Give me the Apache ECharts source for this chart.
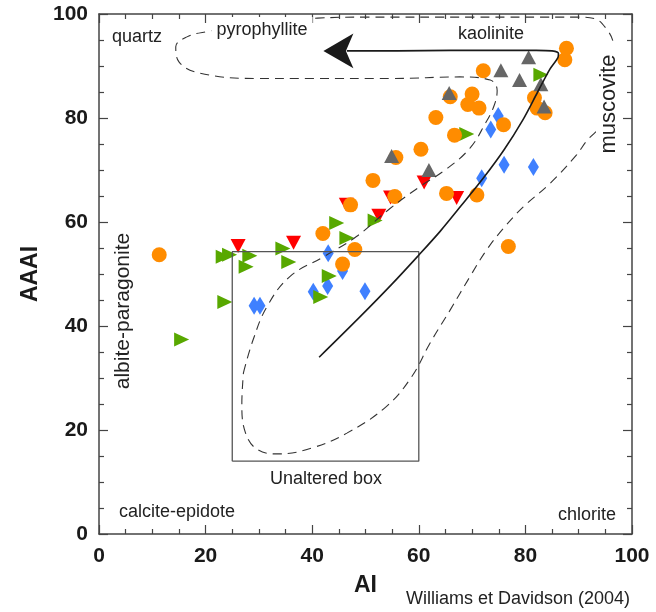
<!DOCTYPE html>
<html lang="en">
<head>
    <meta charset="UTF-8">
    <title>AI - AAAI</title>
    <style>
        html, body { margin: 0; padding: 0; background: #fff; }
        #main { width: 656px; height: 612px; }
    </style>
</head>
<body>
    <div id="main"></div>
    <script src="https://cdn.jsdelivr.net/npm/echarts@6/dist/echarts.min.js"></script>
    <script>
        // samples as [AI, AAAI]
        var orangeCircles = [[11.3, 53.7], [42.0, 57.8], [45.7, 51.9], [47.2, 63.3], [48.0, 54.7], [51.4, 68.0],
            [55.5, 64.9], [55.7, 72.4], [60.4, 74.0], [63.2, 80.1], [65.2, 65.5], [65.9, 84.1], [66.7, 76.7],
            [69.2, 82.6], [70.0, 84.6], [70.9, 65.2], [71.3, 81.9], [72.1, 89.1], [75.9, 78.7], [76.8, 55.3],
            [81.7, 83.9], [82.2, 81.9], [83.7, 81.0], [87.4, 91.2], [87.7, 93.4]];
        var grayTriangles = [[54.9, 72.7], [61.9, 70.0], [65.7, 84.8], [75.4, 89.2], [78.9, 87.3], [80.6, 91.7],
            [82.9, 86.5], [83.5, 82.2]];
        var redTriangles = [[26.1, 55.4], [36.5, 56.0], [46.4, 63.3], [52.5, 61.2], [54.7, 64.7], [61.0, 67.6],
            [67.1, 64.6]];
        var greenTriangles = [[15.5, 37.4], [23.3, 53.3], [23.6, 44.6], [24.5, 53.7], [27.6, 51.4], [28.3, 53.5],
            [34.5, 54.9], [35.6, 52.3], [41.6, 45.6], [43.2, 49.6], [44.6, 59.8], [46.5, 56.9], [51.8, 60.3],
            [69.0, 76.9], [82.9, 88.3]];
        var blueDiamonds = [[29.1, 43.9], [30.2, 43.9], [40.2, 46.6], [42.9, 47.7], [43.0, 54.0], [45.7, 50.6],
            [49.9, 46.7], [71.8, 68.4], [73.5, 77.8], [74.9, 80.4], [76.0, 71.0], [81.5, 70.6]];

        // box and trend outlines
        var unalteredBox = [[25, 14], [60, 14], [60, 54.3], [25, 54.3], [25, 14]];
        var trendLine = [[41.3, 34.0], [49, 41.8], [55, 48.1], [59.7, 53.3], [64, 58.2], [68, 63.2], [72, 68.3],
            [76, 73.9], [79.5, 79.6], [82.3, 85], [84.6, 89.4], [86.1, 91.6], [86.2, 92.4], [85, 92.9],
            [82, 93.0], [76, 93.0], [66, 93.0], [56, 92.9], [46.5, 92.9]];
        var arrowHead = [[42.1, 92.9]];
        var fieldOutline = [[27.1, 31], [28.9, 37.3], [31.5, 43.7], [35.8, 49.5], [42.1, 53.3], [48.3, 57.2],
            [54.6, 62.6], [60.2, 66.8], [65.2, 70.2], [69.6, 74.2], [72.4, 78.8], [74.1, 82.3], [74.7, 85.3],
            [73.4, 87.3], [67.7, 87.9], [55, 87.6], [40, 87.6], [29.6, 87.6], [19, 88.6], [15, 90.8], [14.4, 93.7],
            [16.5, 95.6], [20.2, 96.6], [28, 97.8], [35, 98.6], [41, 99.2], [50, 99.4], [70, 99.4], [90, 99.4],
            [93, 99.1], [95.3, 97], [96.5, 94.5], [97, 90], [96.5, 84], [94.6, 79], [91.5, 75.6], [89.6, 72.9],
            [84.6, 67.4], [79.6, 62.9], [75.9, 58.8], [72.7, 54.6], [69.6, 49.5], [65.9, 43.1], [62.1, 36.7],
            [58.7, 30.3], [53.9, 24.5], [46.5, 19.4], [39.8, 16.5], [33.8, 15.4], [29.8, 16.2], [27.5, 19.4],
            [26.8, 25.1], [27.1, 31]];

        var FONT = '"Liberation Sans", Arial, sans-serif';
        var myChart = echarts.init(document.getElementById('main'));

        function axisBase(pos, showLabels) {
            return {
                type: 'value', min: 0, max: 100, interval: 20, position: pos,
                axisLine: { show: true, onZero: false, lineStyle: { color: '#444', width: 1.5 } },
                axisTick: { show: true, inside: true, length: 9, lineStyle: { color: '#444', width: 1.2 } },
                minorTick: { show: true, splitNumber: 4, length: 5, lineStyle: { color: '#444', width: 1.2 } },
                splitLine: { show: false },
                axisLabel: { show: showLabels, fontSize: 21, fontWeight: 'bold', color: '#1a1a1a', fontFamily: FONT }
            };
        }

        function txt(text, x, y, size, rot, bg, pad) {
            return {
                type: 'text', x: x, y: y, rotation: rot || 0, z: 100,
                style: {
                    text: text, fill: '#222', font: size + 'px ' + FONT,
                    align: 'center', verticalAlign: 'middle',
                    backgroundColor: bg || null, padding: pad || 0
                }
            };
        }

        var xBottom = axisBase('bottom', true);
        xBottom.axisLabel.margin = 12;
        xBottom.name = 'AI';
        xBottom.nameLocation = 'middle';
        xBottom.nameGap = 40;
        xBottom.nameTextStyle = { fontSize: 23, fontWeight: 'bold', color: '#1a1a1a', fontFamily: FONT };
        var yLeft = axisBase('left', true);
        yLeft.axisLabel.margin = 11;
        yLeft.name = 'AAAI';
        yLeft.nameLocation = 'middle';
        yLeft.nameGap = 55;
        yLeft.nameTextStyle = { fontSize: 23, fontWeight: 'bold', color: '#1a1a1a', fontFamily: FONT };

        var option = {
            animation: false,
            backgroundColor: '#fff',
            grid: { left: 99, right: 24, top: 14, bottom: 78 },
            xAxis: [xBottom, axisBase('top', false)],
            yAxis: [yLeft, axisBase('right', false)],
            graphic: [
                txt('quartz', 137, 37, 18),
                txt('pyrophyllite', 262, 30, 18, 0, '#fff', [4, 5]),
                txt('kaolinite', 491, 34, 18),
                txt('muscovite', 609, 104, 22, Math.PI / 2, '#fff', [2, 9]),
                txt('albite-paragonite', 123, 311, 21, Math.PI / 2),
                txt('calcite-epidote', 177, 512, 18),
                txt('chlorite', 587, 515, 18),
                txt('Unaltered box', 326, 479, 18),
                txt('Williams et Davidson (2004)', 518, 599, 18)
            ],
            series: [
                {
                    type: 'line', data: fieldOutline, smooth: 0.4, symbol: 'none', silent: true,
                    lineStyle: { color: '#333', width: 1.1, type: [9, 6] }
                },
                {
                    type: 'line', data: unalteredBox, symbol: 'none', silent: true,
                    lineStyle: { color: '#555', width: 1.3 }
                },
                {
                    type: 'line', data: trendLine, smooth: 0.3, symbol: 'none', silent: true,
                    lineStyle: { color: '#1a1a1a', width: 1.6 }
                },
                {
                    type: 'scatter', data: arrowHead, symbol: 'arrow', symbolRotate: 90, symbolSize: [26, 30],
                    itemStyle: { color: '#1a1a1a', opacity: 1 }, silent: true
                },
                {
                    type: 'scatter', data: blueDiamonds, symbol: 'diamond', symbolSize: [11, 18],
                    itemStyle: { color: '#3f80ff', opacity: 1 }
                },
                {
                    type: 'scatter', data: redTriangles, symbol: 'triangle', symbolRotate: 180, symbolSize: [15, 14],
                    itemStyle: { color: '#ff0000', opacity: 1 }
                },
                {
                    type: 'scatter', data: greenTriangles, symbol: 'triangle', symbolRotate: -90, symbolSize: [14, 15],
                    itemStyle: { color: '#58a800', opacity: 1 }
                },
                {
                    type: 'scatter', data: orangeCircles, symbol: 'circle', symbolSize: 15,
                    itemStyle: { color: '#ff8c00', opacity: 1 }
                },
                {
                    type: 'scatter', data: grayTriangles, symbol: 'triangle', symbolSize: [15, 14],
                    itemStyle: { color: '#666666', opacity: 1 }
                }
            ]
        };
        myChart.setOption(option);
    </script>
</body>
</html>
